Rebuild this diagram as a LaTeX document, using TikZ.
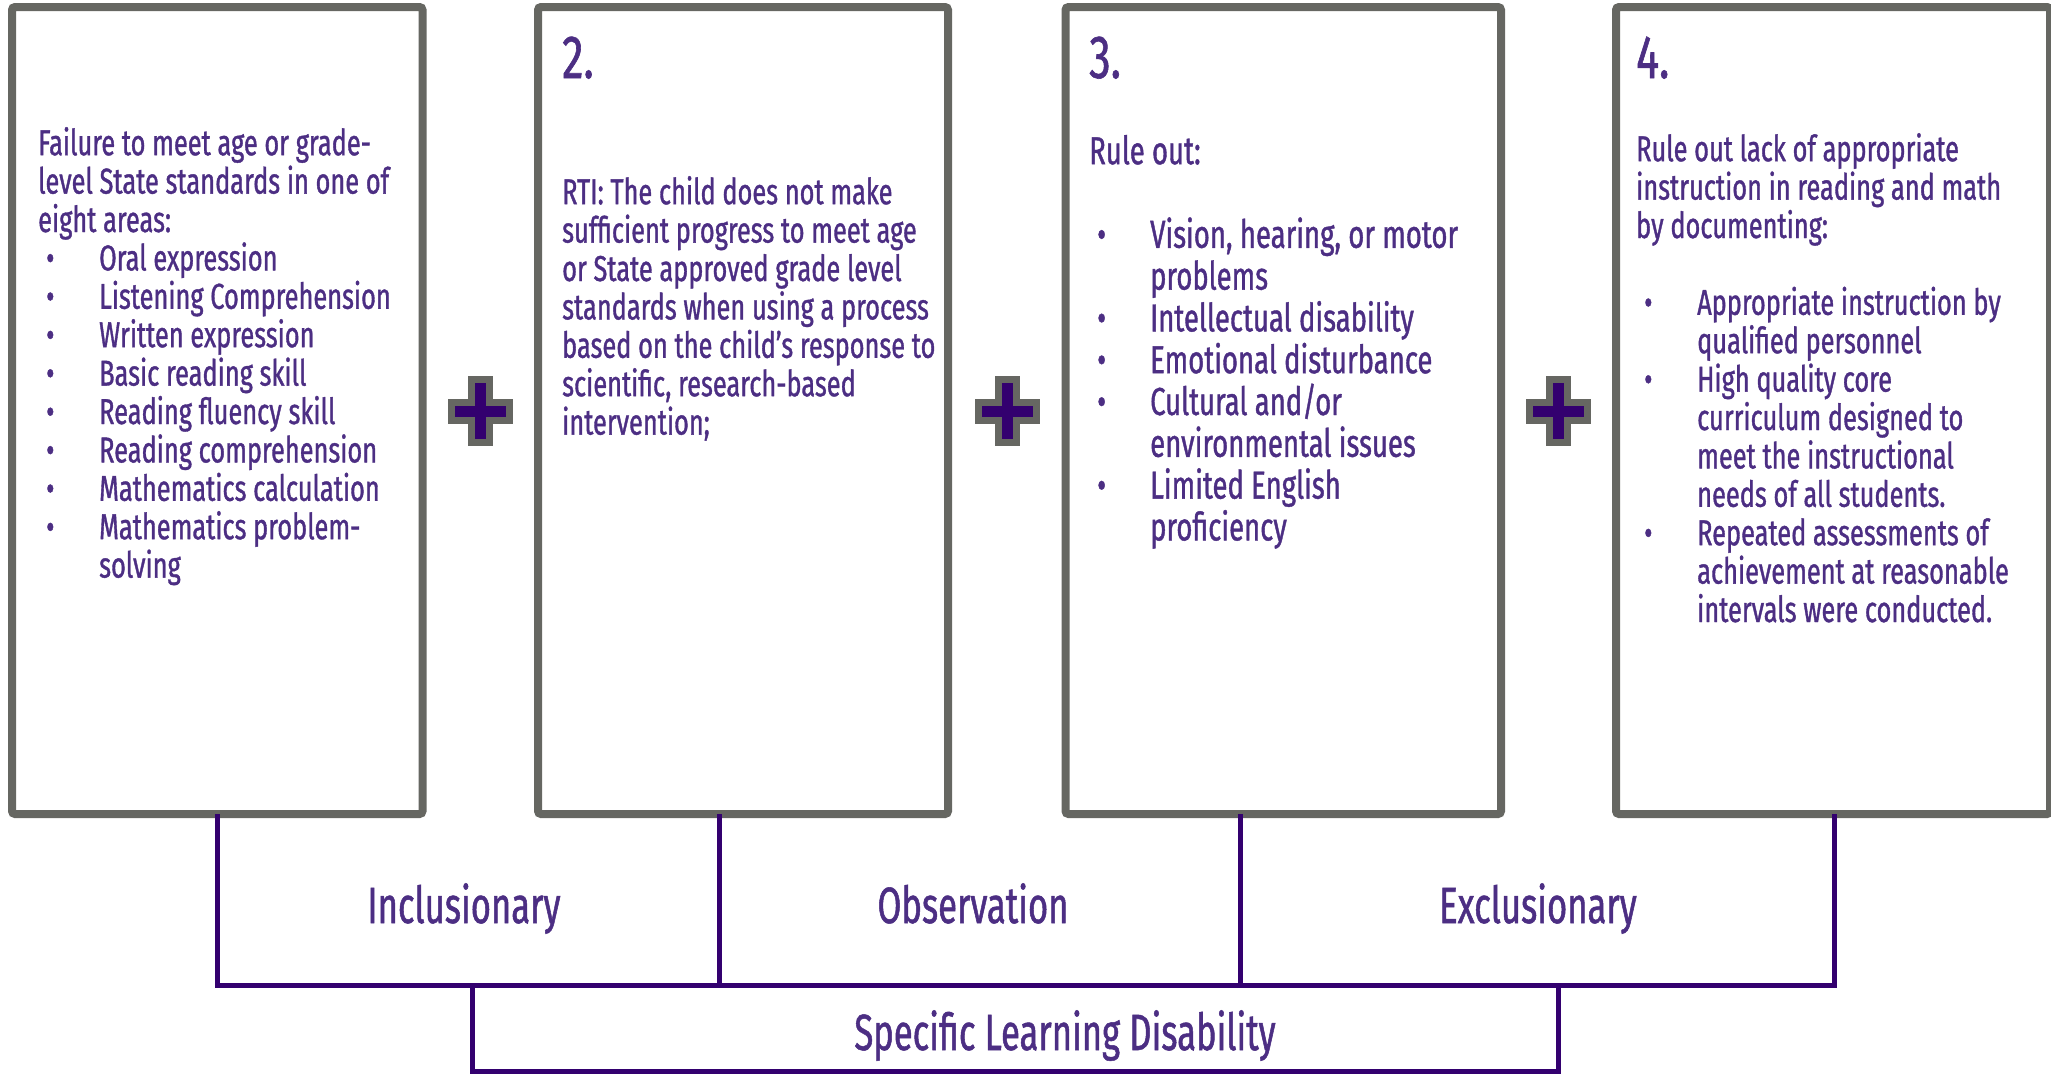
\documentclass[tikz,border=0pt]{standalone}
\usepackage{fontspec}
\setmainfont{Fira Sans}
\newfontfamily\rawfs{Fira Sans}
% condensed faces: horizontal stretch worked out from a sample line
\newlength\probe
\settowidth\probe{\rawfs\fontsize{36pt}{38pt}\selectfont standards when using a process}
\edef\bodyx{\fpeval{round(367pt/\probe,3)}}
\settowidth\probe{\rawfs\fontsize{51pt}{56pt}\selectfont Specific Learning Disability}
\edef\labelx{\fpeval{round(421pt/\probe,3)}}
\edef\mkfont{\noexpand\newfontfamily\noexpand\bodyfs{Fira Sans}[FakeStretch=\bodyx,FakeBold=1]}\mkfont
\edef\mkfont{\noexpand\newfontfamily\noexpand\labelfs{Fira Sans}[FakeStretch=\labelx,FakeBold=1]}\mkfont

\definecolor{panelgray}{HTML}{666762}
\definecolor{linkpurple}{HTML}{33006F}
\definecolor{inkpurple}{HTML}{4C2E83}

% bullet with hanging indent, and the indent alone for wrapped lines
\newcommand\bitem{\makebox[61pt][l]{\hspace*{8pt}•}}
\newcommand\cont{\hspace*{61pt}}

\begin{document}
\begin{tikzpicture}[x=1pt,y=-1pt,
  panel/.style={draw=panelgray, line width=8pt, rounded corners=3pt,
    inner sep=0pt, outer sep=0pt, minimum height=807pt},
  link/.style={draw=linkpurple, line width=5pt},
  bodytext/.style={anchor=north west, inner sep=0pt, align=left, text=inkpurple,
    font=\bodyfs\fontsize{36pt}{38.4pt}\selectfont},
  bigtext/.style={bodytext, font=\bodyfs\fontsize{39pt}{41.8pt}\selectfont},
  numeral/.style={anchor=base west, inner sep=0pt, text=inkpurple,
    font=\bodyfs\fontsize{61pt}{64pt}\selectfont},
  caption/.style={anchor=base, inner sep=0pt, text=inkpurple,
    font=\labelfs\fontsize{51pt}{56pt}\selectfont},
  plussign/.pic={
    \path[fill=linkpurple, draw=panelgray, line width=7pt]
      (-9,-31.5) -- (9,-31.5) -- (9,-9) -- (29,-9) -- (29,9) -- (9,9)
      -- (9,31.5) -- (-9,31.5) -- (-9,9) -- (-29,9) -- (-29,-9) -- (-9,-9) -- cycle;
  }]
\useasboundingbox (0,0) rectangle (2051,1074);

% the four criteria panels
\node[panel, minimum width=410.5pt] (b1) at (217.25,410.5) {};
\node[panel, minimum width=410pt]   (b2) at (743,410.5) {};
\node[panel, minimum width=435.5pt] (b3) at (1283.25,410.5) {};
\node[panel, minimum width=434pt]   (b4) at (1833,410.5) {};

% plus signs between panels
\pic at (480,411) {plussign};
\pic at (1007,411) {plussign};
\pic at (1558.5,411) {plussign};

% panel contents
\node[bodytext] (t1) at (38,123) {\rule{0pt}{32pt}Failure to meet age or grade-\\
level State standards in one of\\
eight areas:\\
\bitem Oral expression\\
\bitem Listening Comprehension\\
\bitem Written expression\\
\bitem Basic reading skill\\
\bitem Reading fluency skill\\
\bitem Reading comprehension\\
\bitem Mathematics calculation\\
\bitem Mathematics problem-\\
\cont solving};

\node[numeral] (n2) at (562,78) {2.};
\node[bodytext] (t2) at (562,172) {\rule{0pt}{32pt}RTI: The child does not make\\
sufficient progress to meet age\\
or State approved grade level\\
standards when using a process\\
based on the child’s response to\\
scientific, research-based\\
intervention;};

\node[numeral] (n3) at (1089,78) {3.};
\node[bigtext] (t3) at (1089,130) {\rule{0pt}{34pt}Rule out:\\[41.8pt]
\bitem Vision, hearing, or motor\\
\cont problems\\
\bitem Intellectual disability\\
\bitem Emotional disturbance\\
\bitem Cultural and/or\\
\cont environmental issues\\
\bitem Limited English\\
\cont proficiency};

\node[numeral] (n4) at (1636,78) {4.};
\node[bodytext] (t4) at (1636,129) {\rule{0pt}{32pt}Rule out lack of appropriate\\
instruction in reading and math\\
by documenting:\\[38.4pt]
\bitem Appropriate instruction by\\
\cont qualified personnel\\
\bitem High quality core\\
\cont curriculum designed to\\
\cont meet the instructional\\
\cont needs of all students.\\
\bitem Repeated assessments of\\
\cont achievement at reasonable\\
\cont intervals were conducted.};

% bracket joining the panels
\coordinate (barL) at (217,985.5);
\coordinate (barR) at (1834,985.5);
\draw[link] (b1.south) -- (b1.south |- barL) -- (barR) -- (barR |- b4.south);
\draw[link] ([xshift=-24pt]b2.south) -- ([xshift=-24pt]b2.south |- barL);
\draw[link] ([xshift=-43pt]b3.south) -- ([xshift=-43pt]b3.south |- barL);

\node[draw=linkpurple, line width=5pt, inner sep=0pt, minimum width=1086pt,
  minimum height=85.5pt] (slbox) at (1015.5,1028.25) {};

% group captions
\node[caption] (incl) at (464,923) {Inclusionary};
\node[caption] (obs)  at (973,923) {Observation};
\node[caption] (excl) at (1538,923) {Exclusionary};
\node[caption] (sld)  at (1065,1050) {Specific Learning Disability};
\end{tikzpicture}
\end{document}
